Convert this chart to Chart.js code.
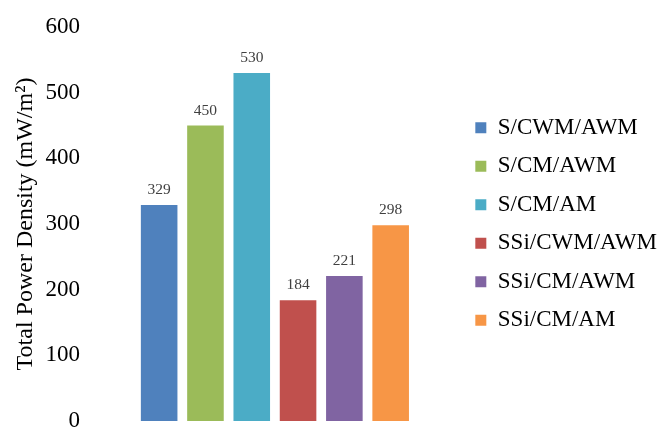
<!DOCTYPE html>
<html>
<head>
<meta charset="utf-8">
<script src="https://cdn.jsdelivr.net/npm/chart.js@4.4.0/dist/chart.umd.min.js"></script>
<style>
  body { margin: 0; background: white; }
</style>
</head>
<body>
<canvas id="myChart" width="667" height="429"></canvas>
<script>
// datos de la grafica
const categorias = ["S/CWM/AWM", "S/CM/AWM", "S/CM/AM", "SSi/CWM/AWM", "SSi/CM/AWM", "SSi/CM/AM"];
const valores = [329, 450, 530, 184, 221, 298];
const colores = ["#4F81BD", "#9BBB59", "#4BACC6", "#C0504D", "#8064A2", "#F79646"];
const ticksY = [0, 100, 200, 300, 400, 500, 600];

const fuente = "'Liberation Serif', 'Times New Roman', serif";

// etiquetas de valor encima de cada barra
const etiquetas = {
    id: "etiquetas",
    afterDatasetsDraw(chart) {
        const ctx = chart.ctx;
        const meta = chart.getDatasetMeta(0);
        ctx.save();
        ctx.fillStyle = "#404040";
        ctx.font = "15.5px " + fuente;
        ctx.textAlign = "center";
        ctx.textBaseline = "alphabetic";
        meta.data.forEach((bar, i) => {
            ctx.fillText(valores[i], bar.x, bar.y - 11);
        });
        ctx.restore();
    }
};

const data = {
    labels: categorias,
    datasets: [{
        data: valores,
        backgroundColor: colores,
        barPercentage: 0.79,
        categoryPercentage: 1
    }]
};

const config = {
    type: "bar",
    data,
    options: {
        responsive: false,
        animation: false,
        layout: { padding: { top: 27, bottom: 8, left: 0, right: 0 } },
        scales: {
            x: { display: false },
            y: {
                min: 0,
                max: 600,
                afterBuildTicks: (axis) => { axis.ticks = ticksY.map(v => ({ value: v })); },
                afterFit: (axis) => {
                    axis.width = 136;
                    axis.paddingTop = 0;
                    axis.paddingBottom = 0;
                },
                grid: { display: false, drawTicks: false },
                border: { display: false },
                ticks: {
                    color: "#000",
                    padding: 56,
                    font: { family: fuente, size: 23 }
                },
                title: {
                    display: true,
                    text: "Total Power Density (mW/m²)",
                    color: "#000",
                    padding: { top: 11, bottom: 0 },
                    font: { family: fuente, size: 24 }
                }
            },
            // eje vacio a la derecha, solo para separar la leyenda
            hueco: {
                position: "right",
                afterFit: (axis) => {
                    axis.width = 46;
                    axis.paddingTop = 0;
                    axis.paddingBottom = 0;
                },
                grid: { display: false, drawTicks: false },
                border: { display: false },
                ticks: { display: false }
            }
        },
        plugins: {
            tooltip: { enabled: false },
            legend: {
                position: "right",
                maxWidth: 260,
                labels: {
                    color: "#000",
                    boxWidth: 11,
                    boxHeight: 11,
                    padding: 15.5,
                    font: { family: fuente, size: 23 },
                    generateLabels: (chart) => categorias.map((c, i) => ({
                        text: c,
                        fillStyle: colores[i],
                        strokeStyle: colores[i],
                        lineWidth: 0,
                        index: i
                    }))
                }
            }
        }
    },
    plugins: [etiquetas]
};

new Chart(document.getElementById("myChart"), config);
</script>
</body>
</html>
